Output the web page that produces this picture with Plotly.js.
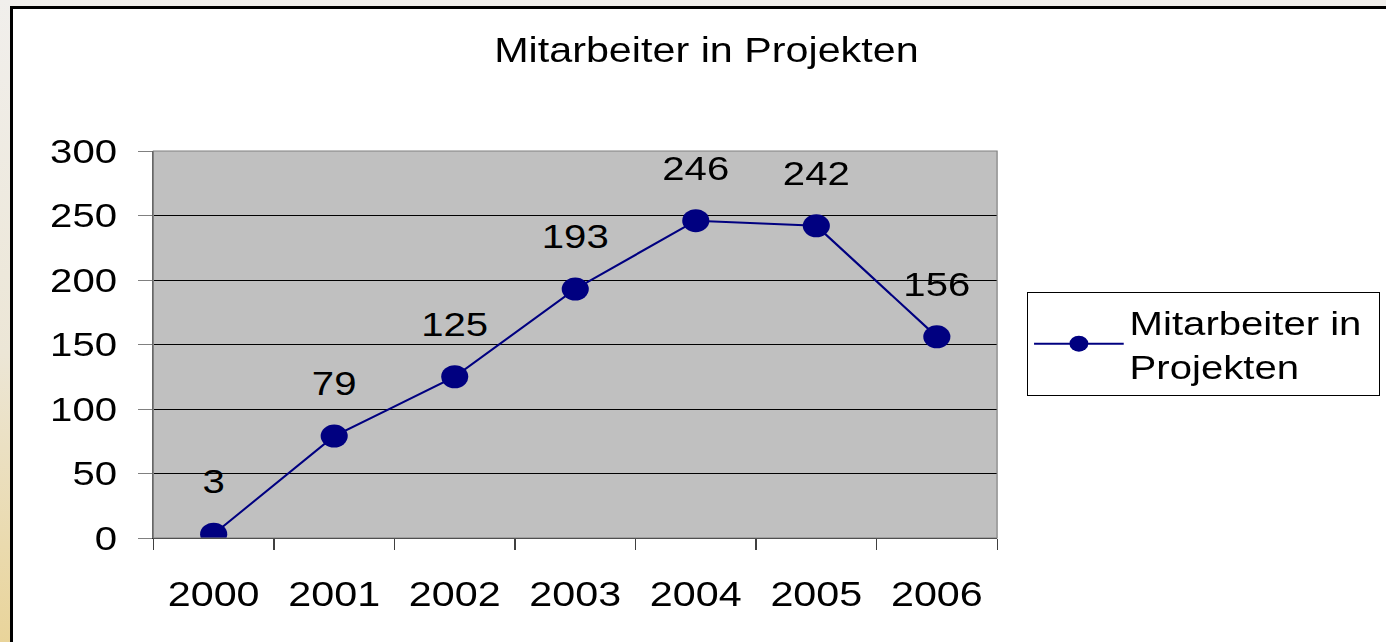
<!DOCTYPE html>
<html>
<head>
<meta charset="utf-8">
<script src="https://cdn.plot.ly/plotly-3.0.1.min.js"></script>
<style>
  html, body { margin: 0; padding: 0; width: 1386px; height: 642px; overflow: hidden;
    background: linear-gradient(180deg, #f1efec 0%, #ece6d6 55%, #e9d49a 100%); }
  #box { position: absolute; left: 10px; top: 6px; width: 1400px; height: 660px;
    background: #ffffff; border-left: 3px solid #000; border-top: 3px solid #000; }
  #plot { position: absolute; left: 0; top: 0; width: 1175px; height: 642px;
    transform: scaleX(1.18); transform-origin: 0 0; }
</style>
</head>
<body>
<div id="box"></div>
<div id="plot"></div>
<script>
const chartTitle = 'Mitarbeiter in Projekten';
const seriesName = 'Mitarbeiter in&nbsp;<br>Projekten';
const years = ['2000', '2001', '2002', '2003', '2004', '2005', '2006'];
const staff = [3, 79, 125, 193, 246, 242, 156];
const yTicks = [0, 50, 100, 150, 200, 250, 300];

const FONT = 'Liberation Sans, Arial, sans-serif';
const NAVY = '#000080';

const trace = {
  type: 'scatter',
  mode: 'lines+markers',
  x: years,
  y: staff,
  name: seriesName,
  line: { color: NAVY, width: 2 },
  marker: { color: NAVY, size: 23, line: { width: 0 } },
  hoverinfo: 'x+y'
};

// data labels: text-only companion trace with an invisible, larger marker
// so the labels sit above the points as in the original
const labelTrace = {
  type: 'scatter',
  mode: 'markers+text',
  x: years,
  y: staff,
  text: staff.map(String),
  textposition: 'top center',
  textfont: { family: FONT, size: 34, color: '#000' },
  marker: { size: 50, opacity: 0, color: NAVY },
  showlegend: false,
  cliponaxis: false,
  hoverinfo: 'skip'
};

const layout = {
  width: 1175, height: 642,
  paper_bgcolor: 'rgba(0,0,0,0)',
  plot_bgcolor: '#c0c0c0',
  margin: { l: 130, r: 330, t: 151, b: 104, autoexpand: false },
  font: { family: FONT, color: '#000' },
  title: {
    text: chartTitle,
    font: { family: FONT, size: 35, color: '#000' },
    x: 0.5095, xanchor: 'center', xref: 'container',
    y: 1 - 50 / 642, yanchor: 'middle', yref: 'container'
  },
  xaxis: {
    type: 'category',
    range: [-0.5, 6.5],
    tickson: 'boundaries',
    ticks: 'outside', ticklen: 11, tickwidth: 1, tickcolor: '#404040',
    showgrid: false, zeroline: false,
    showline: true, linecolor: '#202020', linewidth: 1,
    tickfont: { family: FONT, size: 35, color: '#000' },
    ticklabelstandoff: 25,
    fixedrange: true
  },
  yaxis: {
    range: [0, 300],
    tickvals: yTicks,
    ticktext: yTicks.map(String),
    ticks: 'outside', ticklen: 12, tickwidth: 1, tickcolor: '#808080',
    showgrid: true, gridcolor: '#000000', gridwidth: 1,
    zeroline: false,
    showline: true, linecolor: '#606060', linewidth: 1,
    tickfont: { family: FONT, size: 34, color: '#000' },
    ticklabelstandoff: 11,
    fixedrange: true
  },
  shapes: [{
    type: 'rect', xref: 'paper', yref: 'paper', x0: 0, x1: 1, y0: 0, y1: 1,
    line: { color: '#808080', width: 1 }, layer: 'above'
  }],
  showlegend: true,
  legend: {
    x: 1.0354, xanchor: 'left', y: 0.6357, yanchor: 'top',
    bgcolor: '#ffffff', bordercolor: '#000000', borderwidth: 1,
    font: { family: FONT, size: 34, color: '#000' },
    itemwidth: 76
  }
};

Plotly.newPlot('plot', [trace, labelTrace], layout, { displayModeBar: false, staticPlot: true });
</script>
</body>
</html>
